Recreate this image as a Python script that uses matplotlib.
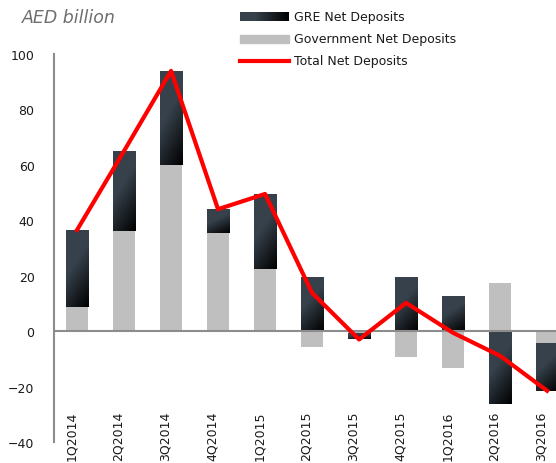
import numpy as np
import matplotlib
matplotlib.use('Agg')
import matplotlib.pyplot as plt
from matplotlib.colors import LinearSegmentedColormap

quarters = ['1Q2014', '2Q2014', '3Q2014', '4Q2014', '1Q2015', '2Q2015',
            '3Q2015', '4Q2015', '1Q2016', '2Q2016', '3Q2016']
gov = [8.7, 36.1, 60.0, 35.4, 22.4, -5.7, -0.8, -9.3, -13.2, 17.3, -4.3]
gre = [27.8, 28.9, 33.9, 8.6, 27.0, 19.5, -2.2, 19.5, 12.6, -26.2, -17.2]
total = [36.5, 65.0, 93.9, 44.0, 49.5, 13.8, -3.0, 10.2, -0.6, -8.9, -21.5]

plt.rcParams['font.family'] = ['DejaVu Sans']

fig = plt.figure(figsize=(5.56, 4.64), dpi=100)
ax = fig.add_axes([54 / 556, 21 / 464, 502 / 556, 388 / 464])

x = np.arange(len(quarters))
w = 0.47
gov = np.array(gov)
gre = np.array(gre)

# government first, from zero
ax.bar(x, gov, w, color='#bfbfbf', zorder=2)

# GRE stacked on the government part (same sign side) or from zero
gre_bottom = np.where(np.sign(gre) == np.sign(gov), gov, 0.0)
gre_bars = ax.bar(x, gre, w, bottom=gre_bottom, color='#36414b', zorder=3)

# gradient fill: slate at top-left fading to black bottom-right
cmap = LinearSegmentedColormap.from_list('gre', ['#36414b', '#000000'])
yy, xx = np.mgrid[0:1:80j, 0:1:20j]
grad = np.clip((0.7 * yy + 0.3 * xx - 0.42) / 0.58, 0, 1)
for p in gre_bars.patches:
    x0, y0 = p.get_x(), p.get_y()
    x1, y1 = x0 + p.get_width(), y0 + p.get_height()
    lo, hi = min(y0, y1), max(y0, y1)
    im = ax.imshow(grad, cmap=cmap, vmin=0, vmax=1, aspect='auto',
                   extent=[x0, x1, lo, hi], origin='upper', zorder=3.5)
    im.set_clip_path(p)

ax.plot(x, total, color='#ff0000', lw=3, zorder=5)

ax.axhline(0, color='#8c8c8c', lw=1.5, zorder=4)
ax.set_xlim(-0.49, 10.19)
ax.set_ylim(-40, 100)
ax.set_yticks(range(-40, 101, 20))
ax.set_xticks([])
ax.tick_params(axis='y', length=0, pad=14, labelsize=9, labelcolor='#1a1a1a')
for s in ['top', 'right', 'bottom']:
    ax.spines[s].set_visible(False)
ax.spines['left'].set_color('#8c8c8c')
ax.spines['left'].set_linewidth(1.5)

for i, q in enumerate(quarters):
    ax.text(i - 0.12, -28.8, q, rotation=90, ha='center', va='top',
            fontsize=9, color='#1a1a1a', clip_on=False)

fig.text(22 / 556, 1 - 18 / 464, 'AED billion', fontsize=12.5, style='italic',
         color='#6e6e6e', va='center', ha='left')

# legend drawn by hand
lax = fig.add_axes([240 / 556, 1 - 22 / 464, 49 / 556, 9 / 464])
lx = np.linspace(0, 1, 50)[None, :]
lax.imshow(np.clip((lx - 0.3) / 0.7, 0, 1), cmap=cmap, vmin=0, vmax=1, aspect='auto')
lax.axis('off')
fig.patches.append(plt.Rectangle((240 / 556, 1 - 44 / 464), 49 / 556, 8 / 464,
                                 color='#bfbfbf', transform=fig.transFigure))
fig.lines.append(plt.Line2D([240 / 556, 289 / 556], [1 - 62 / 464, 1 - 62 / 464],
                            color='#ff0000', lw=3, transform=fig.transFigure))
for yp, lab in [(17.5, 'GRE Net Deposits'), (40, 'Government Net Deposits'),
                (62, 'Total Net Deposits')]:
    fig.text(294 / 556, 1 - yp / 464, lab, fontsize=9, color='#1a1a1a', va='center')

fig.savefig('out.png', dpi=100)
